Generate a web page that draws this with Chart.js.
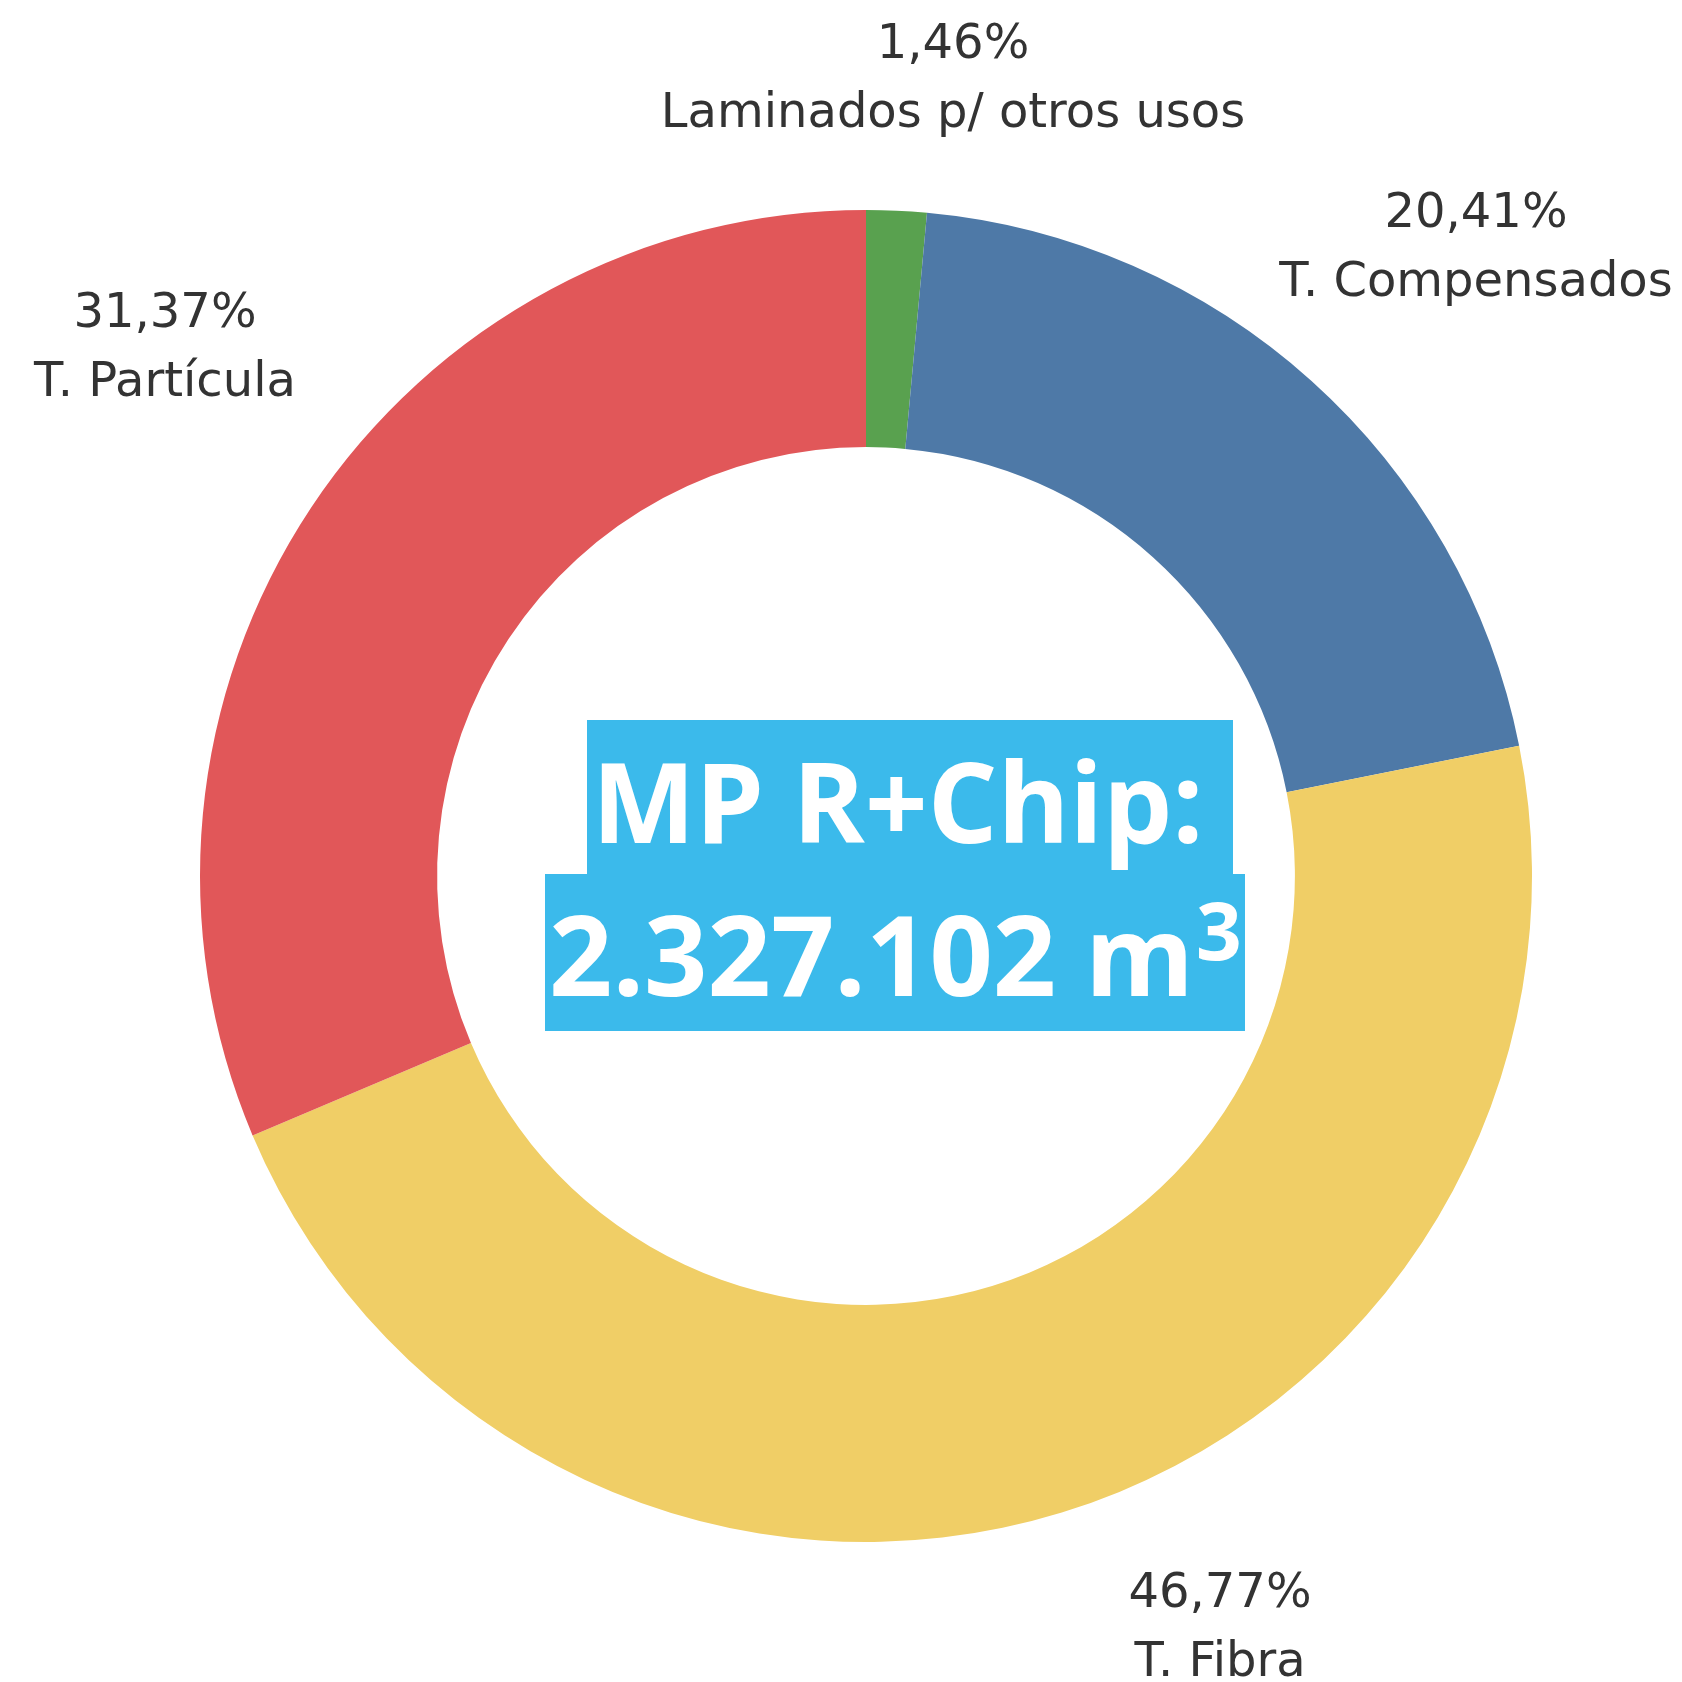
<!DOCTYPE html>
<html>
<head>
<meta charset="utf-8">
<script src="https://cdn.jsdelivr.net/npm/chart.js@4/dist/chart.umd.min.js"></script>
<style>
  html, body { margin: 0; padding: 0; background: #ffffff; }
  #wrap { width: 1682px; height: 1682px; }
</style>
</head>
<body>
<div id="wrap"><canvas id="c" width="1682" height="1682"></canvas></div>
<script>
// ---- data ----
const categories = ['Laminados p/ otros usos', 'T. Compensados', 'T. Fibra', 'T. Partícula'];
const shares = [1.46, 20.41, 46.77, 31.37];
const colors = ['#59A14F', '#4E79A7', '#F0CE66', '#E15759'];
const centerTitle = 'MP R+Chip: ';
const centerValue = '2.327.102 m';
const centerSup = '3';

// ---- layout (text anchors: x centre, baseline of first line) ----
const labelAnchors = [
  { x: 953, y: 58 },
  { x: 1476, y: 227 },
  { x: 1220, y: 1607 },
  { x: 165, y: 327 }
];

function fmtPct(v) { return v.toFixed(2).replace('.', ',') + '%'; }

const labelPlugin = {
  id: 'outerLabels',
  afterDraw(chart) {
    const ctx = chart.ctx;
    ctx.save();
    ctx.fillStyle = '#333333';
    ctx.font = '400 48px "DejaVu Sans"';
    ctx.textAlign = 'center';
    ctx.textBaseline = 'alphabetic';
    categories.forEach((cat, i) => {
      const a = labelAnchors[i];
      ctx.fillText(fmtPct(shares[i]), a.x, a.y);
      ctx.fillText(cat, a.x, a.y + 69);
    });
    ctx.restore();
  }
};

const centerPlugin = {
  id: 'centerBox',
  afterDraw(chart) {
    const ctx = chart.ctx;
    ctx.save();
    ctx.fillStyle = '#3BBAEB';
    ctx.fillRect(587, 720, 646, 155);
    ctx.fillRect(545, 874, 700, 157);
    ctx.fillStyle = '#ffffff';
    ctx.textAlign = 'left';
    ctx.textBaseline = 'alphabetic';
    ctx.font = '700 112px "Open Sans"';
    ctx.fillText(centerTitle, 592, 843, 640);
    ctx.fillText(centerValue, 549, 996, 645);
    const w = Math.min(ctx.measureText(centerValue).width, 645);
    ctx.font = '700 80px "Open Sans"';
    ctx.fillText(centerSup, 549 + w + 2, 960);
    ctx.restore();
  }
};

new Chart(document.getElementById('c'), {
  type: 'doughnut',
  data: {
    labels: categories,
    datasets: [{
      data: shares,
      backgroundColor: colors,
      borderWidth: 0,
      hoverOffset: 0
    }]
  },
  options: {
    responsive: false,
    animation: false,
    cutout: '64.4%',
    rotation: 0,
    layout: { padding: { left: 200, right: 150, top: 210, bottom: 140 } },
    plugins: {
      legend: { display: false },
      tooltip: { enabled: false }
    }
  },
  plugins: [labelPlugin, centerPlugin]
});
</script>
</body>
</html>
